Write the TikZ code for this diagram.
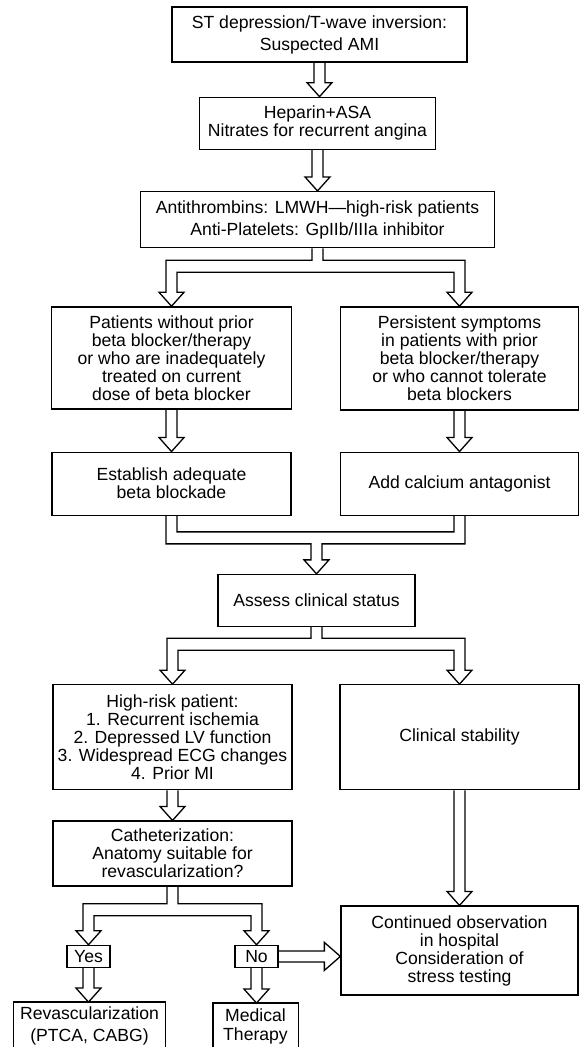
\documentclass[tikz,border=0pt]{standalone}
\usepackage{fontspec}
\setmainfont{Liberation Sans}
\usetikzlibrary{positioning}
\usetikzlibrary{calc}
\tikzstyle{box} = [rectangle,draw=black,line width=1.3pt,fill=white,align=center,inner sep=2pt,font=\fontsize{17.6}{18}\selectfont]
\tikzstyle{openbox} = [box,draw=none]
\tikzstyle{flow} = [line width=1.3pt,line join=miter]
\def\sw{5.5pt}
\def\hw{12.5pt}
\def\hl{14pt}
\def\bw{12pt}

% hollow block arrows
\newcommand{\downflow}[2]{%
  \draw [flow] let \p1=(#1.south), \p2=(#2.north) in
    (\x1-\sw,\y1) -- (\x1-\sw,\y2+\hl) -- (\x1-\hw,\y2+\hl) -- (\x1,\y2)
    -- (\x1+\hw,\y2+\hl) -- (\x1+\sw,\y2+\hl) -- (\x1+\sw,\y1);}
\newcommand{\rightflow}[2]{%
  \draw [flow] let \p1=(#1.east), \p2=(#2.west) in
    (\x1,\y1+\sw) -- (\x2-16pt,\y1+\sw) -- (\x2-16pt,\y1+14pt) -- (\x2,\y1)
    -- (\x2-16pt,\y1-14pt) -- (\x2-16pt,\y1-\sw) -- (\x1,\y1-\sw);}
\newcommand{\splitflow}[4]{%
  \draw [flow] let \p1=(#1.south), \p2=(#2.north), \p3=(#3.north),
    \p4=($(#1.south)+(0,-#4)$) in
    (\x1-\sw,\y1) -- (\x1-\sw,\y4) -- (\x2-\sw,\y4) -- (\x2-\sw,\y2+\hl)
    -- (\x2-\hw,\y2+\hl) -- (\x2,\y2) -- (\x2+\hw,\y2+\hl) -- (\x2+\sw,\y2+\hl)
    -- (\x2+\sw,\y4-\bw) -- (\x3-\sw,\y4-\bw) -- (\x3-\sw,\y3+\hl)
    -- (\x3-\hw,\y3+\hl) -- (\x3,\y3) -- (\x3+\hw,\y3+\hl) -- (\x3+\sw,\y3+\hl)
    -- (\x3+\sw,\y4) -- (\x1+\sw,\y4) -- (\x1+\sw,\y1);}
\newcommand{\mergeflow}[4]{%
  \draw [flow] let \p1=(#1.south), \p2=(#2.south), \p3=(#3.north),
    \p4=($(#1.south)+(0,-#4)$) in
    (\x1+\sw,\y1) -- (\x1+\sw,\y4) -- (\x2-\sw,\y4) -- (\x2-\sw,\y2)
    (\x1-\sw,\y1) -- (\x1-\sw,\y4-\bw) -- (\x3-\sw,\y4-\bw) -- (\x3-\sw,\y3+\hl)
    -- (\x3-\hw,\y3+\hl) -- (\x3,\y3) -- (\x3+\hw,\y3+\hl) -- (\x3+\sw,\y3+\hl)
    -- (\x3+\sw,\y4-\bw) -- (\x2+\sw,\y4-\bw) -- (\x2+\sw,\y2);}

\begin{document}
\begin{tikzpicture}[x=1pt,y=-1pt]
  \useasboundingbox (0,0) rectangle (582,1047);

  \node [box,minimum width=295pt,minimum height=55pt] (b1) at (319.5,34.5) {ST depression/T-wave inversion:\\[4pt] Suspected AMI};
  \node [box,minimum width=236pt,minimum height=52pt,below=34pt of b1,xshift=-2pt] (b2) {Heparin+ASA\\ Nitrates for recurrent angina};
  \node [box,minimum width=354pt,minimum height=56pt,below=41pt of b2] (b3) {Antithrombins: LMWH—high-risk patients\\[4pt] Anti-Platelets: GpIIb/IIIa inhibitor};

  \node [box,minimum width=240pt,minimum height=102pt,below=58pt of b3,xshift=-146pt] (b4) {Patients without prior\\ beta blocker/therapy\\ or who are inadequately\\ treated on current\\ dose of beta blocker};
  \node [box,minimum width=238pt,minimum height=103pt,below=58pt of b3,xshift=142pt] (b5) {Persistent symptoms\\ in patients with prior\\ beta blocker/therapy\\ or who cannot tolerate\\ beta blockers};
  \node [box,minimum width=239pt,minimum height=63pt,below=42pt of b4] (b6) {Establish adequate\\ beta blockade};
  \node [box,minimum width=238pt,minimum height=63pt,below=41pt of b5] (b7) {Add calcium antagonist};

  \node [box,minimum width=197pt,minimum height=52pt,below=58pt of b6,xshift=145pt] (b8) {Assess clinical status};
  \node [box,minimum width=239pt,minimum height=105pt,below=57pt of b8,xshift=-144pt] (b9) {High-risk patient:\\ 1. Recurrent ischemia\\ 2. Depressed LV function\\ 3. Widespread ECG changes\\ 4. Prior MI};
  \node [box,minimum width=239pt,minimum height=105pt,below=57pt of b8,xshift=143pt] (b10) {Clinical stability};

  \node [box,minimum width=239pt,minimum height=65pt,below=30pt of b9] (b11) {Catheterization:\\ Anatomy suitable for\\ revascularization?};
  \node [box,minimum width=237pt,minimum height=89pt,below=115pt of b10] (b12) {Continued observation\\ in hospital\\ Consideration of\\ stress testing};
  \node [box,minimum width=43pt,minimum height=22pt,below=58pt of b11,xshift=-84pt] (yes) {Yes};
  \node [box,minimum width=43pt,minimum height=22pt,below=58pt of b11,xshift=84pt] (no) {No};
  \node [openbox,minimum width=151pt,minimum height=46pt,below=34pt of yes,xshift=1pt] (b13) {Revascularization\\[4pt] (PTCA, CABG)};
  \node [openbox,minimum width=84pt,minimum height=46pt,below=35pt of no,xshift=-1pt] (b14) {Medical\\[1pt] Therapy};
  % boxes run off the bottom edge
  \draw [flow] (b13.north west |- 0,1047) |- (b13.north east) -- (b13.north east |- 0,1047);
  \draw [flow] (b14.north west |- 0,1047) |- (b14.north east) -- (b14.north east |- 0,1047);

  \downflow{b1}{b2}
  \downflow{b2}{b3}
  \splitflow{b3}{b4}{b5}{12pt}
  \downflow{b4}{b6}
  \downflow{b5}{b7}
  \mergeflow{b6}{b7}{b8}{16pt}
  \splitflow{b8}{b9}{b10}{11pt}
  \downflow{b9}{b11}
  \downflow{b10}{b12}
  \splitflow{b11}{yes}{no}{17pt}
  \downflow{yes}{b13}
  \downflow{no}{b14}
  \rightflow{no}{b12}
\end{tikzpicture}
\end{document}
